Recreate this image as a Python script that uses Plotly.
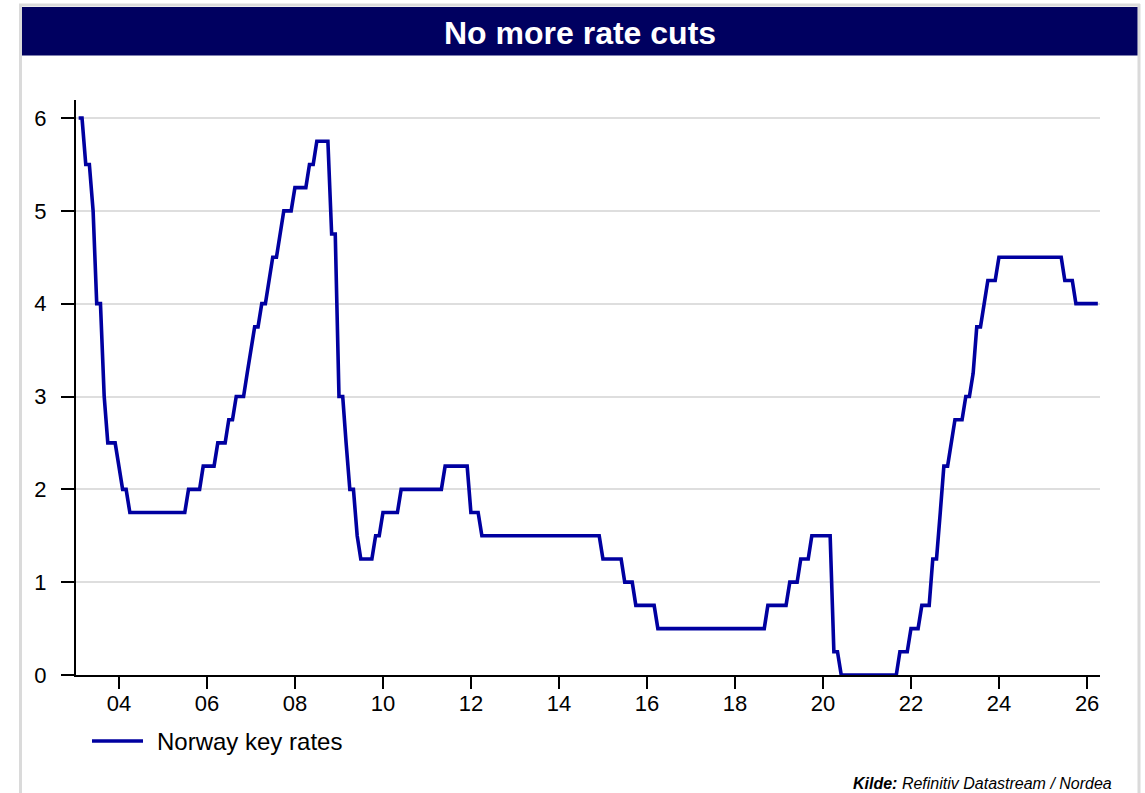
import pandas as pd
import plotly.graph_objects as go

# Norges Bank key policy rate, month-end observations from January 2003
first_month = "2003-01-31"
key_rate = [
    6.00, 6.00, 5.50, 5.50, 5.00, 4.00, 4.00, 3.00, 2.50, 2.50, 2.50, 2.25,  # 2003
    2.00, 2.00, 1.75, 1.75, 1.75, 1.75, 1.75, 1.75, 1.75, 1.75, 1.75, 1.75,  # 2004
    1.75, 1.75, 1.75, 1.75, 1.75, 1.75, 2.00, 2.00, 2.00, 2.00, 2.25, 2.25,  # 2005
    2.25, 2.25, 2.50, 2.50, 2.50, 2.75, 2.75, 3.00, 3.00, 3.00, 3.25, 3.50,  # 2006
    3.75, 3.75, 4.00, 4.00, 4.25, 4.50, 4.50, 4.75, 5.00, 5.00, 5.00, 5.25,  # 2007
    5.25, 5.25, 5.25, 5.50, 5.50, 5.75, 5.75, 5.75, 5.75, 4.75, 4.75, 3.00,  # 2008
    3.00, 2.50, 2.00, 2.00, 1.50, 1.25, 1.25, 1.25, 1.25, 1.50, 1.50, 1.75,  # 2009
    1.75, 1.75, 1.75, 1.75, 2.00, 2.00, 2.00, 2.00, 2.00, 2.00, 2.00, 2.00,  # 2010
    2.00, 2.00, 2.00, 2.00, 2.25, 2.25, 2.25, 2.25, 2.25, 2.25, 2.25, 1.75,  # 2011
    1.75, 1.75, 1.50, 1.50, 1.50, 1.50, 1.50, 1.50, 1.50, 1.50, 1.50, 1.50,  # 2012
    1.50, 1.50, 1.50, 1.50, 1.50, 1.50, 1.50, 1.50, 1.50, 1.50, 1.50, 1.50,  # 2013
    1.50, 1.50, 1.50, 1.50, 1.50, 1.50, 1.50, 1.50, 1.50, 1.50, 1.50, 1.25,  # 2014
    1.25, 1.25, 1.25, 1.25, 1.25, 1.00, 1.00, 1.00, 0.75, 0.75, 0.75, 0.75,  # 2015
    0.75, 0.75, 0.50, 0.50, 0.50, 0.50, 0.50, 0.50, 0.50, 0.50, 0.50, 0.50,  # 2016
    0.50, 0.50, 0.50, 0.50, 0.50, 0.50, 0.50, 0.50, 0.50, 0.50, 0.50, 0.50,  # 2017
    0.50, 0.50, 0.50, 0.50, 0.50, 0.50, 0.50, 0.50, 0.75, 0.75, 0.75, 0.75,  # 2018
    0.75, 0.75, 1.00, 1.00, 1.00, 1.25, 1.25, 1.25, 1.50, 1.50, 1.50, 1.50,  # 2019
    1.50, 1.50, 0.25, 0.25, 0.00, 0.00, 0.00, 0.00, 0.00, 0.00, 0.00, 0.00,  # 2020
    0.00, 0.00, 0.00, 0.00, 0.00, 0.00, 0.00, 0.00, 0.25, 0.25, 0.25, 0.50,  # 2021
    0.50, 0.50, 0.75, 0.75, 0.75, 1.25, 1.25, 1.75, 2.25, 2.25, 2.50, 2.75,  # 2022
    2.75, 2.75, 3.00, 3.00, 3.25, 3.75, 3.75, 4.00, 4.25, 4.25, 4.25, 4.50,  # 2023
    4.50, 4.50, 4.50, 4.50, 4.50, 4.50, 4.50, 4.50, 4.50, 4.50, 4.50, 4.50,  # 2024
    4.50, 4.50, 4.50, 4.50, 4.50, 4.25, 4.25, 4.25, 4.00, 4.00, 4.00, 4.00,  # 2025
    4.00, 4.00, 4.00,                                                        # 2026
]
months = pd.date_range(first_month, periods=len(key_rate), freq="ME")

series_name = "Norway key rates"
chart_title = "No more rate cuts"
source_note = "<b><i>Kilde:</i></b><i> Refinitiv Datastream / Nordea</i>"
y_ticks = [0, 1, 2, 3, 4, 5, 6]

FONT = "Liberation Sans, Arial, Helvetica, sans-serif"
LINE_BLUE = "#0000a0"
NAVY = "#000060"
FRAME_GREY = "#dadada"

# page geometry (pixels)
W_PX, H_PX = 1145, 793
L, R, T, B = 76, 45, 100, 118
PW = W_PX - L - R
PH = H_PX - T - B


def px(xp):
    return (xp - L) / PW


def py(yp):
    return (H_PX - B - yp) / PH


fig = go.Figure()
fig.add_trace(go.Scatter(
    x=months, y=key_rate, mode="lines", name=series_name,
    line=dict(color=LINE_BLUE, width=3.6), showlegend=False,
    hoverinfo="x+y",
))

shapes = [
    # outer grey frame
    dict(type="line", xref="paper", yref="paper", x0=px(20.5), x1=px(20.5), y0=py(4), y1=py(800),
         line=dict(color=FRAME_GREY, width=3)),
    dict(type="line", xref="paper", yref="paper", x0=px(19), x1=px(1140), y0=py(5), y1=py(5),
         line=dict(color=FRAME_GREY, width=3)),
    dict(type="line", xref="paper", yref="paper", x0=px(1139), x1=px(1139), y0=py(4), y1=py(800),
         line=dict(color=FRAME_GREY, width=3)),
    # title band
    dict(type="rect", xref="paper", yref="paper", x0=px(22), x1=px(1137.5), y0=py(7), y1=py(55.5),
         fillcolor=NAVY, line=dict(width=0)),
    # legend key
    dict(type="line", xref="paper", yref="paper", x0=px(92), x1=px(143), y0=py(741), y1=py(741),
         line=dict(color=LINE_BLUE, width=3.6)),
]

annotations = [
    dict(text=f"<b>{chart_title}</b>", xref="paper", yref="paper", x=px(580), y=py(33),
         xanchor="center", yanchor="middle", showarrow=False,
         font=dict(family=FONT, size=32, color="white")),
    dict(text=series_name, xref="paper", yref="paper", x=px(155), y=py(741),
         xanchor="left", yanchor="middle", showarrow=False,
         font=dict(family=FONT, size=24, color="black")),
    dict(text=source_note, xref="paper", yref="paper", x=px(1114), y=py(773),
         xanchor="right", yanchor="top", showarrow=False,
         font=dict(family=FONT, size=16, color="black")),
]

fig.update_layout(
    width=W_PX, height=H_PX,
    margin=dict(l=L, r=R, t=T, b=B, pad=0),
    paper_bgcolor="white", plot_bgcolor="white",
    font=dict(family=FONT, size=22, color="black"),
    shapes=shapes, annotations=annotations,
    showlegend=False,
)

fig.update_xaxes(
    type="date", range=["2003-01-09", "2026-04-18"],
    tick0="2004-01-01", dtick="M24", tickformat="%y",
    ticks="outside", ticklen=12, tickwidth=2, tickcolor="black",
    showline=True, linecolor="black", linewidth=2,
    showgrid=False, zeroline=False, layer="below traces",
    tickfont=dict(family=FONT, size=22, color="black"),
    ticklabelstandoff=-4,
)
fig.update_yaxes(
    range=[0, 6.194], tickvals=y_ticks,
    ticks="outside", ticklen=13, tickwidth=2, tickcolor="black",
    showline=True, linecolor="black", linewidth=2,
    showgrid=True, gridcolor="#dedede", gridwidth=2, zeroline=False,
    layer="below traces",
    tickfont=dict(family=FONT, size=22, color="black"),
    ticklabelstandoff=10,
)

fig.write_html("out.html")
